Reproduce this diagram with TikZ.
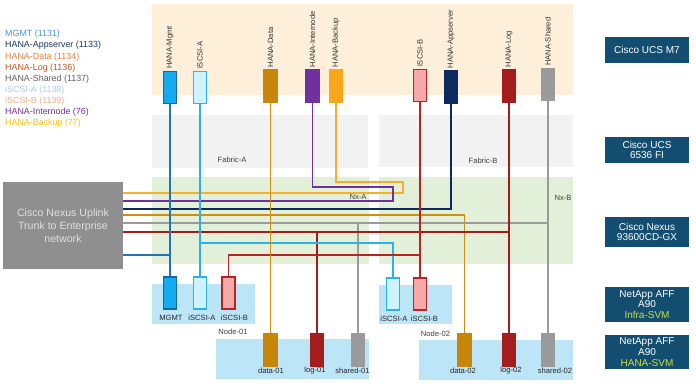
\documentclass[tikz,border=0pt]{standalone}
\usepackage{fontspec}
\setmainfont{Liberation Sans}
\definecolor{devblue}{HTML}{134E70}
\definecolor{beige}{HTML}{FDEFDA}
\definecolor{fab}{HTML}{F2F2F2}
\definecolor{nx}{HTML}{E2F0D9}
\definecolor{nodebg}{HTML}{BDE5F8}
\definecolor{svm}{HTML}{C9E03A}
\definecolor{upl}{HTML}{8F8F8F}
\definecolor{cMgmt}{HTML}{2474B5}
\definecolor{cMgmtF}{HTML}{16ABEE}
\definecolor{cMgmtD}{HTML}{1464A8}
\definecolor{cIA}{HTML}{2AB3E6}
\definecolor{cIAF}{HTML}{CFF3FE}
\definecolor{cData}{HTML}{D08E12}
\definecolor{cDataF}{HTML}{C8850B}
\definecolor{cInt}{HTML}{7030A0}
\definecolor{cBack}{HTML}{F8AE2A}
\definecolor{cBackF}{HTML}{F9A61A}
\definecolor{cIB}{HTML}{B82323}
\definecolor{cIBF}{HTML}{F5A8A8}
\definecolor{cApp}{HTML}{0C2A5E}
\definecolor{cLog}{HTML}{A51C1C}
\definecolor{cSh}{HTML}{9A9A9A}
\definecolor{lMgmt}{HTML}{4E94D4}
\definecolor{lApp}{HTML}{1F3864}
\definecolor{lData}{HTML}{E9823D}
\definecolor{lLog}{HTML}{C5581A}
\definecolor{lSh}{HTML}{626262}
\definecolor{lIA}{HTML}{A9CCEB}
\definecolor{lIB}{HTML}{F2AE86}
\definecolor{lInt}{HTML}{7030A0}
\definecolor{lBack}{HTML}{FFC000}
\begin{document}
\begin{tikzpicture}[x=1pt,y=-1pt,
  wire/.style={line width=1.7pt},
  port/.style={draw, line width=1.2pt, minimum width=13pt, minimum height=32pt, inner sep=0pt},
  vlab/.style={rotate=90, anchor=west, font=\fontsize{7.6}{8}\selectfont, inner sep=0pt, text=black!80},
  plab/.style={font=\fontsize{7.6}{8}\selectfont, inner sep=0pt, text=black!85},
  zlab/.style={font=\fontsize{7.6}{8}\selectfont, inner sep=0pt, text=black!75},
  dev/.style={fill=devblue, text=white, minimum width=84pt, inner sep=0pt, align=center, font=\fontsize{10}{10.8}\selectfont},
  leg/.style={anchor=west, inner sep=0pt, font=\fontsize{8.9}{10}\selectfont}
]
\useasboundingbox (0,0) rectangle (696,386);
\fill[white] (0,0) rectangle (696,386);
% zones
\fill[beige] (152,4) rectangle (573,95);
\fill[fab] (152,115) rectangle (368,168);
\fill[fab] (379,115) rectangle (573,167);
\fill[nx] (152,177) rectangle (369,264);
\fill[nx] (379,177) rectangle (573,264);
\fill[nodebg] (152,284) rectangle (255,324);
\fill[nodebg] (216,339) rectangle (369,379);
\fill[nodebg] (379,285) rectangle (452,324);
\fill[nodebg] (419,340) rectangle (573,380);
\node[zlab] (fA) at (232,160) {Fabric-A};
\node[zlab] (fB) at (483,161) {Fabric-B};
\node[zlab] (nA) at (358,197) {Nx-A};
\node[zlab] (nB) at (563,198) {Nx-B};
\node[zlab] (n01) at (233,332) {Node-01};
\node[zlab] (n02) at (435.5,334) {Node-02};
% legend
\node[leg,text=lMgmt] (lg1) at (5,34) {MGMT (1131)};
\node[leg,text=lApp] (lg2) at (5,45) {HANA-Appserver (1133)};
\node[leg,text=lData] (lg3) at (5,57) {HANA-Data (1134)};
\node[leg,text=lLog] (lg4) at (5,68) {HANA-Log (1136)};
\node[leg,text=lSh] (lg5) at (5,79.5) {HANA-Shared (1137)};
\node[leg,text=lIA] (lg6) at (5,90.5) {iSCSI-A (1138)};
\node[leg,text=lIB] (lg7) at (5,101.5) {iSCSI-B (1139)};
\node[leg,text=lInt] (lg8) at (5,112.5) {HANA-Internode (76)};
\node[leg,text=lBack] (lg9) at (5,123.5) {HANA-Backup (77)};
% uplink
\node[fill=upl, text=black!12, minimum width=120pt, minimum height=87pt, align=center, font=\fontsize{10.6}{13}\selectfont, inner sep=0pt] (upl) at (63,225.5) {Cisco Nexus Uplink\\Trunk to Enterprise\\network};
% right devices
\node[dev, minimum height=26pt] (d1) at (647,50) {Cisco UCS M7};
\node[dev, minimum height=26pt] (d2) at (647,150) {Cisco UCS\\6536 FI};
\node[dev, minimum height=30pt] (d3) at (647,232) {Cisco Nexus\\93600CD-GX};
\node[dev, minimum height=35pt] (d4) at (647,304.5) {NetApp AFF\\A90\\\textcolor{svm}{Infra-SVM}};
\node[dev, minimum height=34pt] (d5) at (647,352) {NetApp AFF\\A90\\\textcolor{svm}{HANA-SVM}};
% server ports
\node[port, draw=cMgmtD, fill=cMgmtF] (pMgmt) at (170,87.5) {};
\node[port, draw=cIA, fill=cIAF] (pIA) at (200,87.5) {};
\node[port, draw=cDataF, fill=cDataF] (pData) at (270.5,86) {};
\node[port, draw=cInt, fill=cInt] (pInt) at (312.5,86) {};
\node[port, draw=cBackF, fill=cBackF] (pBack) at (336,86) {};
\node[port, draw=cIB, fill=cIBF] (pIB) at (420,85.5) {};
\node[port, draw=cApp, fill=cApp] (pApp) at (451,87) {};
\node[port, draw=cLog, fill=cLog] (pLog) at (509,86) {};
\node[port, draw=cSh, fill=cSh] (pSh) at (548,84.5) {};
\node[vlab] (tMgmt) at ([yshift=2pt]pMgmt.north) {HANA-Mgmt};
\node[vlab] (tIA) at ([yshift=2pt]pIA.north) {iSCSI-A};
\node[vlab] (tData) at ([yshift=2pt]pData.north) {HANA-Data};
\node[vlab] (tInt) at ([yshift=2pt]pInt.north) {HANA-Internode};
\node[vlab] (tBack) at ([yshift=2pt]pBack.north) {HANA-Backup};
\node[vlab] (tIB) at ([yshift=2pt]pIB.north) {iSCSI-B};
\node[vlab] (tApp) at ([yshift=2pt]pApp.north) {HANA-Appserver};
\node[vlab] (tLog) at ([yshift=2pt]pLog.north) {HANA-Log};
\node[vlab] (tSh) at ([yshift=2pt]pSh.north) {HANA-Shared};
% storage ports
\node[port, draw=cMgmtD, fill=cMgmtF] (nMgmt) at (170,293) {};
\node[port, draw=cIA, fill=cIAF] (nIA) at (200,293) {};
\node[port, draw=cIB, fill=cIBF] (nIB) at (228.5,293) {};
\node[port, draw=cIA, fill=cIAF] (n2IA) at (393,294) {};
\node[port, draw=cIB, fill=cIBF] (n2IB) at (420,294) {};
\node[port, draw=cDataF, fill=cDataF] (d01) at (270.5,350) {};
\node[port, draw=cLog, fill=cLog] (l01) at (317,350) {};
\node[port, draw=cSh, fill=cSh] (s01) at (358,350) {};
\node[port, draw=cDataF, fill=cDataF] (d02) at (464.5,350) {};
\node[port, draw=cLog, fill=cLog] (l02) at (509,350) {};
\node[port, draw=cSh, fill=cSh] (s02) at (548,350) {};
\node[plab] (tnM) at (171,318) {MGMT};
\node[plab] (tnA) at (202,318) {iSCSI-A};
\node[plab] (tnB) at (234.5,318) {iSCSI-B};
\node[plab] (tn2A) at (394,319) {iSCSI-A};
\node[plab] (tn2B) at (424.5,319) {iSCSI-B};
\node[plab] (td1) at (271,371) {data-01};
\node[plab] (tl1) at (315,371) {log-01};
\node[plab] (ts1) at (352.5,371) {shared-01};
\node[plab] (td2) at (463,371) {data-02};
\node[plab] (tl2) at (511,371) {log-02};
\node[plab] (ts2) at (555,371) {shared-02};
% coordinates for wiring
\coordinate (inA) at (393,187);
\coordinate (inB) at (393,201);
\coordinate (bkA) at (403,182);
\coordinate (bkB) at (403,193);
\coordinate (apY) at (0,209);
\coordinate (dtY) at (0,215);
\coordinate (shY) at (0,223);
\coordinate (lgY) at (0,232);
\coordinate (iaY) at (0,243);
\coordinate (ibY) at (0,255);
\coordinate (mgY) at (0,255);
% wires
\draw[wire,cBack] (pBack.south) |- (bkA) -- (bkB) -- (upl.east |- bkB);
\draw[wire,cInt] (pInt.south) |- (inA) -- (inB) -- (upl.east |- inB);
\draw[wire,cApp] (pApp.south) |- (upl.east |- apY);
\draw[wire,cData] (upl.east |- dtY) -| (d02.north);
\draw[wire,cSh] (upl.east |- shY) -- (pSh.south |- shY);
\draw[wire,cSh] (s01.north) -- (s01.north |- shY);
\draw[wire,cLog] (upl.east |- lgY) -- (pLog.south |- lgY);
\draw[wire,cLog] (l01.north) -- (l01.north |- lgY);
\draw[wire,cIA] (pIA.south |- iaY) -| (n2IA.north);
\draw[wire,cIB] (nIB.north) |- (n2IB.north |- ibY);
\draw[wire,cMgmt] (upl.east |- mgY) -- (pMgmt.south |- mgY);
\draw[wire,cMgmt] (pMgmt.south) -- (nMgmt.north);
\draw[wire,cIA] (pIA.south) -- (nIA.north);
\draw[wire,cData] (pData.south) -- (d01.north);
\draw[wire,cIB] (pIB.south) -- (n2IB.north);
\draw[wire,cLog] (pLog.south) -- (l02.north);
\draw[wire,cSh] (pSh.south) -- (s02.north);
\end{tikzpicture}
\end{document}
